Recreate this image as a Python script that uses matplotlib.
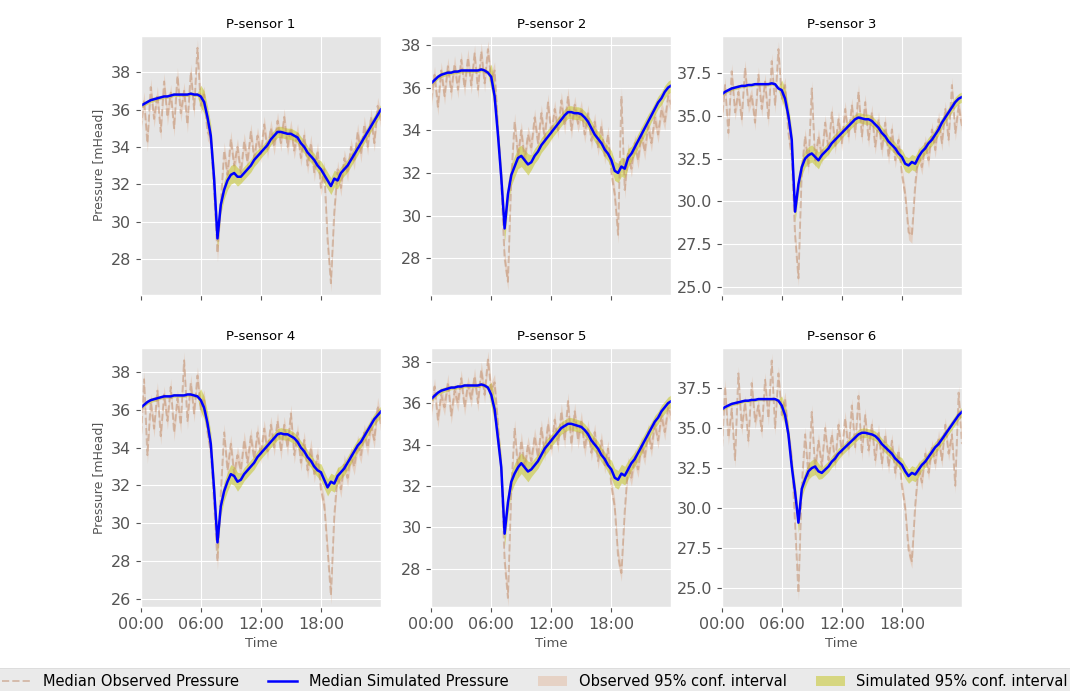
#!/usr/bin/env python3
"""Daily pressure at six sensors: observed vs simulated medians and 95% bands."""

import numpy as np
import matplotlib

matplotlib.use("Agg")
import matplotlib.pyplot as plt

# 20-minute samples over one day, hours 0 .. 24
hours = np.arange(73) / 3.0
sensors = ["P-sensor 1", "P-sensor 2", "P-sensor 3",
           "P-sensor 4", "P-sensor 5", "P-sensor 6"]

# median simulated pressure [mHead], 3 values per hour
sim_1 = [36.2, 36.3, 36.4, 36.5, 36.55, 36.6, 36.65, 36.7, 36.7, 36.75, 36.8, 36.8, 36.8, 36.8, 36.8, 36.85, 36.8, 36.8,
         36.7, 36.4, 35.6, 34.6, 32.3, 29.1, 30.9, 31.7, 32.2, 32.5, 32.6, 32.4, 32.4, 32.6, 32.8, 33.0, 33.3, 33.5,
         33.7, 33.9, 34.1, 34.4, 34.6, 34.8, 34.8, 34.75, 34.7, 34.7, 34.6, 34.5, 34.2, 34.0, 33.7, 33.5, 33.3, 33.0,
         32.8, 32.5, 32.2, 31.9, 32.3, 32.2, 32.6, 32.8, 33.0, 33.3, 33.6, 33.9, 34.2, 34.5, 34.8, 35.1, 35.4, 35.7,
         36.0]
sim_2 = [36.2, 36.35, 36.5, 36.6, 36.65, 36.7, 36.7, 36.75, 36.75, 36.8, 36.8, 36.8, 36.8, 36.8, 36.8, 36.85, 36.8, 36.7,
         36.5, 35.6, 33.8, 31.8, 29.4, 31.0, 31.9, 32.3, 32.7, 32.8, 32.6, 32.4, 32.5, 32.8, 33.0, 33.3, 33.5, 33.7,
         33.9, 34.1, 34.3, 34.5, 34.7, 34.85, 34.85, 34.8, 34.8, 34.75, 34.6, 34.4, 34.1, 33.8, 33.6, 33.4, 33.1, 32.9,
         32.6, 32.1, 32.0, 32.3, 32.2, 32.7, 32.9, 33.2, 33.5, 33.8, 34.1, 34.4, 34.7, 35.0, 35.3, 35.5, 35.8, 36.0,
         36.1]
sim_3 = [36.25, 36.4, 36.5, 36.6, 36.65, 36.7, 36.75, 36.75, 36.8, 36.8, 36.85, 36.85, 36.85, 36.85, 36.85, 36.9, 36.85, 36.6,
         36.5, 36.0, 35.0, 33.6, 29.4, 31.0, 32.0, 32.5, 32.7, 32.8, 32.6, 32.4, 32.7, 32.9, 33.1, 33.4, 33.6, 33.8,
         34.0, 34.2, 34.4, 34.6, 34.8, 34.9, 34.85, 34.8, 34.8, 34.7, 34.5, 34.3, 34.0, 33.8, 33.5, 33.3, 33.1, 32.8,
         32.6, 32.2, 32.1, 32.3, 32.2, 32.6, 32.9, 33.1, 33.4, 33.6, 33.9, 34.2, 34.6, 34.9, 35.2, 35.5, 35.8, 36.0,
         36.1]
sim_4 = [36.1, 36.25, 36.4, 36.5, 36.55, 36.6, 36.65, 36.7, 36.7, 36.7, 36.75, 36.75, 36.75, 36.75, 36.8, 36.8, 36.75, 36.7,
         36.5, 36.1, 35.3, 34.2, 31.8, 29.0, 30.9, 31.7, 32.2, 32.6, 32.5, 32.2, 32.3, 32.6, 32.8, 33.0, 33.2, 33.5,
         33.7, 33.9, 34.1, 34.3, 34.5, 34.7, 34.75, 34.7, 34.7, 34.6, 34.5, 34.3, 34.0, 33.8, 33.5, 33.3, 33.0, 32.8,
         32.7, 32.3, 31.9, 32.2, 32.1, 32.5, 32.7, 32.9, 33.2, 33.5, 33.8, 34.1, 34.3, 34.6, 34.9, 35.2, 35.5, 35.7,
         35.9]
sim_5 = [36.2, 36.35, 36.5, 36.6, 36.65, 36.7, 36.75, 36.75, 36.8, 36.8, 36.85, 36.85, 36.85, 36.85, 36.85, 36.9, 36.85, 36.75,
         36.4, 35.7, 34.3, 32.9, 29.7, 31.2, 32.2, 32.6, 32.9, 33.1, 32.9, 32.7, 32.8, 33.0, 33.2, 33.5, 33.8, 34.0,
         34.2, 34.4, 34.6, 34.8, 34.9, 35.0, 35.0, 34.95, 34.9, 34.85, 34.7, 34.5, 34.2, 34.0, 33.8, 33.5, 33.3, 33.0,
         32.8, 32.4, 32.3, 32.6, 32.5, 32.8, 33.1, 33.3, 33.6, 33.9, 34.2, 34.5, 34.8, 35.1, 35.3, 35.6, 35.8, 36.0,
         36.1]
sim_6 = [36.15, 36.3, 36.4, 36.5, 36.55, 36.6, 36.65, 36.7, 36.7, 36.75, 36.75, 36.8, 36.8, 36.8, 36.8, 36.8, 36.8, 36.7,
         36.4, 35.8, 34.6, 32.6, 31.0, 29.1, 31.2, 31.8, 32.3, 32.5, 32.6, 32.3, 32.2, 32.4, 32.6, 32.9, 33.1, 33.4,
         33.6, 33.8, 34.0, 34.2, 34.4, 34.6, 34.7, 34.7, 34.65, 34.6, 34.5, 34.3, 34.0, 33.8, 33.6, 33.4, 33.1, 32.9,
         32.7, 32.3, 32.0, 32.2, 32.1, 32.4, 32.7, 32.9, 33.2, 33.5, 33.8, 34.0, 34.3, 34.6, 34.9, 35.2, 35.5, 35.8,
         36.0]

# median observed pressure [mHead] (noisy measurements)
obs_1 = [35.0, 36.5, 34.2, 37.2, 35.5, 36.8, 34.8, 37.5, 35.6, 36.9, 35.0, 37.8, 35.8, 37.0, 35.2, 38.0, 36.0, 39.3,
         36.2, 36.8, 34.8, 34.5, 31.5, 28.3, 31.0, 33.8, 32.5, 34.4, 33.0, 34.0, 32.6, 34.3, 33.2, 34.8, 33.4, 34.6,
         33.6, 35.2, 33.8, 35.0, 34.0, 35.4, 34.2, 35.6, 34.0, 35.0, 33.8, 34.8, 33.4, 34.6, 33.0, 34.2, 32.6, 33.8,
         31.8, 32.8, 29.0, 26.7, 30.5, 32.8, 31.8, 33.4, 32.6, 34.0, 33.2, 34.8, 33.6, 35.2, 34.0, 35.6, 34.2, 36.2,
         35.4]
obs_2 = [35.4, 36.6, 35.1, 36.8, 35.6, 37.0, 35.8, 37.1, 35.9, 37.3, 36.0, 37.4, 36.1, 37.6, 35.9, 37.7, 36.2, 37.8,
         36.3, 36.8, 34.2, 31.5, 28.0, 26.9, 31.8, 34.4, 32.8, 34.0, 32.6, 33.8, 33.2, 34.6, 33.4, 34.8, 33.6, 35.3,
         33.8, 35.0, 34.0, 35.4, 34.2, 35.6, 34.0, 35.2, 34.3, 35.0, 33.8, 34.8, 33.5, 34.4, 33.2, 34.2, 32.8, 33.8,
         32.0, 31.0, 29.1, 35.6, 31.2, 33.0, 32.2, 33.4, 32.6, 33.8, 33.0, 34.2, 33.4, 34.6, 33.8, 35.0, 34.4, 35.6,
         35.2]
obs_3 = [34.6, 36.8, 34.0, 37.6, 35.2, 36.4, 34.8, 37.8, 35.6, 36.2, 34.6, 37.4, 35.4, 37.0, 34.8, 38.2, 35.6, 38.9,
         36.0, 36.8, 34.0, 32.6, 28.0, 25.5, 31.8, 33.8, 32.0, 36.6, 32.4, 33.8, 32.6, 34.6, 33.0, 35.2, 33.2, 34.8,
         33.4, 35.4, 33.8, 35.6, 34.0, 36.4, 33.8, 35.8, 33.6, 35.2, 33.2, 34.8, 33.0, 34.6, 32.6, 34.2, 32.4, 33.6,
         31.6, 30.4, 28.2, 28.0, 31.0, 32.8, 32.0, 33.4, 32.4, 34.2, 33.0, 34.8, 33.4, 35.4, 33.6, 36.8, 34.0, 35.6,
         34.4]
obs_4 = [34.2, 37.6, 33.6, 36.4, 35.0, 37.0, 34.6, 36.8, 35.4, 37.2, 34.8, 36.6, 35.2, 38.6, 35.4, 37.4, 35.8, 37.8,
         36.0, 36.6, 34.8, 33.8, 31.0, 28.0, 31.6, 34.8, 32.8, 34.2, 32.6, 33.6, 32.8, 34.4, 33.2, 34.6, 33.4, 34.8,
         33.6, 35.0, 33.8, 35.2, 34.0, 35.4, 33.8, 35.2, 34.0, 35.8, 33.6, 34.8, 33.2, 34.4, 32.8, 34.0, 32.6, 33.6,
         31.8, 31.0, 28.6, 26.2, 30.4, 32.6, 31.8, 33.2, 32.4, 33.6, 33.0, 34.2, 33.6, 34.8, 34.0, 35.2, 34.4, 36.2,
         35.2]
obs_5 = [35.6, 36.8, 35.2, 36.4, 35.8, 37.0, 35.4, 36.6, 36.0, 37.2, 35.8, 36.9, 36.2, 37.3, 36.0, 37.6, 36.4, 38.1,
         36.6, 37.0, 35.0, 32.8, 28.4, 26.6, 31.8, 34.8, 32.8, 34.2, 32.9, 34.0, 33.2, 34.4, 33.4, 34.8, 33.6, 35.0,
         33.8, 35.2, 34.0, 35.6, 34.2, 36.1, 34.0, 35.6, 34.2, 35.2, 33.8, 34.8, 33.6, 34.6, 33.2, 34.2, 33.0, 33.8,
         32.0, 31.0, 28.6, 27.8, 30.8, 33.0, 32.4, 33.4, 32.8, 34.0, 33.4, 34.6, 33.8, 35.0, 34.2, 35.4, 34.6, 35.8,
         35.4]
obs_6 = [33.2, 37.6, 34.4, 36.2, 33.0, 38.4, 35.0, 36.6, 34.2, 37.8, 35.4, 36.4, 34.8, 38.0, 35.6, 39.2, 35.0, 38.4,
         35.8, 36.8, 34.6, 33.2, 29.0, 24.7, 31.4, 34.6, 32.0, 36.0, 32.4, 34.2, 32.6, 35.0, 33.0, 34.6, 32.8, 35.2,
         33.4, 35.6, 33.6, 36.4, 33.8, 37.0, 33.4, 35.8, 33.6, 35.2, 33.0, 34.8, 32.8, 34.6, 32.6, 34.2, 32.2, 33.6,
         31.4, 30.0, 27.4, 26.7, 30.2, 32.6, 31.6, 33.4, 32.2, 33.8, 32.8, 34.4, 33.0, 35.2, 33.4, 34.6, 31.4, 37.2,
         34.0]

sim_medians = [sim_1, sim_2, sim_3, sim_4, sim_5, sim_6]
obs_medians = [obs_1, obs_2, obs_3, obs_4, obs_5, obs_6]

# half width of the observed 95% interval [mHead]
obs_halfwidth = [0.45, 0.4, 0.45, 0.45, 0.4, 0.45]
# half width of the simulated 95% interval [mHead], one value per 2-hour block
sim_halfwidth_1 = [0.12, 0.1, 0.1, 0.6, 0.5, 0.35, 0.3, 0.3, 0.35, 0.45, 0.35, 0.3, 0.3]
sim_halfwidth_2 = [0.12, 0.1, 0.1, 0.6, 0.5, 0.35, 0.3, 0.3, 0.35, 0.45, 0.35, 0.3, 0.3]
sim_halfwidth_3 = [0.12, 0.1, 0.1, 0.6, 0.5, 0.35, 0.3, 0.3, 0.35, 0.45, 0.35, 0.3, 0.3]
sim_halfwidth_4 = [0.12, 0.1, 0.1, 0.6, 0.5, 0.35, 0.3, 0.3, 0.35, 0.45, 0.35, 0.3, 0.3]
sim_halfwidth_5 = [0.12, 0.1, 0.1, 0.6, 0.5, 0.35, 0.3, 0.3, 0.35, 0.45, 0.35, 0.3, 0.3]
sim_halfwidth_6 = [0.12, 0.1, 0.1, 0.6, 0.5, 0.35, 0.3, 0.3, 0.35, 0.45, 0.35, 0.3, 0.3]
sim_halfwidths = [sim_halfwidth_1, sim_halfwidth_2, sim_halfwidth_3,
                  sim_halfwidth_4, sim_halfwidth_5, sim_halfwidth_6]

# axis limits / tick steps
ylims = [(26.09, 39.94), (26.3, 38.42), (24.55, 39.67),
         (25.59, 39.23), (26.16, 38.64), (23.84, 39.96)]
ysteps = [2, 2, 2.5, 2, 2, 2.5]
xticks = [0, 6, 12, 18]
xticklabels = ["00:00", "06:00", "12:00", "18:00"]


def main():
    plt.style.use("ggplot")
    fig, axes = plt.subplots(2, 3, figsize=(10.7, 6.91), dpi=100, sharex=True)
    fig.subplots_adjust(left=0.1315, right=0.899, top=0.948, bottom=0.1215,
                        wspace=0.209, hspace=0.208)

    for i, ax in enumerate(axes.flat):
        sim = np.array(sim_medians[i])
        obs = np.array(obs_medians[i])
        sw = np.repeat(sim_halfwidths[i], 6)[:len(hours)]
        ax.fill_between(hours, obs - obs_halfwidth[i], obs + obs_halfwidth[i],
                        color="#e0a882", alpha=0.35, lw=0,
                        label="Observed 95% conf. interval")
        ax.plot(hours, obs, "--", color="#c08e6e", lw=1.4, alpha=0.5,
                label="Median Observed Pressure")
        ax.fill_between(hours, sim - sw, sim + sw,
                        color="y", alpha=0.45, lw=0,
                        label="Simulated 95% conf. interval")
        ax.plot(hours, sim, color="blue", lw=1.8, label="Median Simulated Pressure")

        ax.set_xlim(0, 24)
        ax.set_ylim(*ylims[i])
        ax.yaxis.set_major_locator(plt.MultipleLocator(ysteps[i]))
        ax.set_xticks(xticks)
        ax.set_xticklabels(xticklabels)
        ax.tick_params(labelsize=11.5)
        ax.set_title(sensors[i], fontsize=9.5)
        if i % 3 == 0:
            ax.set_ylabel("Pressure [mHead]", fontsize=9)
        if i >= 3:
            ax.set_xlabel("Time", fontsize=9.5)

    handles, labels = axes.flat[0].get_legend_handles_labels()
    order = ["Median Observed Pressure", "Median Simulated Pressure",
             "Observed 95% conf. interval", "Simulated 95% conf. interval"]
    hmap = dict(zip(labels, handles))
    fig.legend([hmap[k] for k in order], order, loc="upper center",
               bbox_to_anchor=(0.5, 1 - 661 / 691), ncol=4, fontsize=10.5)

    fig.savefig("out.png", dpi=100)


if __name__ == "__main__":
    main()
